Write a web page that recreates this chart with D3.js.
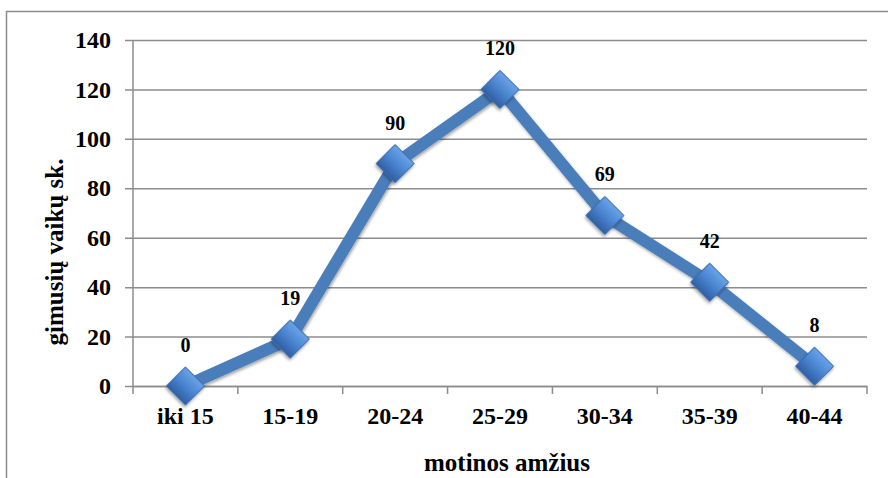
<!DOCTYPE html>
<html>
  <head>
    <meta charset="utf-8">
    <script src="https://d3js.org/d3.v7.min.js"></script>
    <style>
      body { margin: 0px; background: #fff; }
    </style>
  </head>
  <body>
    <svg width="888" height="478"></svg>
    <script>
      const categories = ['iki 15', '15-19', '20-24', '25-29', '30-34', '35-39', '40-44'];
      const values = [0, 19, 90, 120, 69, 42, 8];
      const yTicks = [0, 20, 40, 60, 80, 100, 120, 140];
      const xLabel = 'motinos amžius';
      const yLabel = 'gimusių vaikų sk.';

      const FONT = "'Liberation Serif', 'Times New Roman', Times, serif";
      const margin = { left: 133, right: 21, top: 40, bottom: 92 };
      const svg = d3.select('svg');
      const width = +svg.attr('width');
      const height = +svg.attr('height');
      const innerWidth = width - margin.left - margin.right;
      const innerHeight = height - margin.top - margin.bottom;

      // chart frame (only top and left edges are visible)
      svg.append('path')
          .attr('d', `M6.5,${height} V11.5 H${width}`)
          .attr('fill', 'none')
          .attr('stroke', '#8c8c8c')
          .attr('stroke-width', 1.5);

      const defs = svg.append('defs');
      const grad = defs.append('linearGradient')
          .attr('id', 'mk').attr('x1', 0).attr('y1', 0).attr('x2', 0).attr('y2', 1);
      grad.append('stop').attr('offset', '0%').attr('stop-color', '#6aa3e8');
      grad.append('stop').attr('offset', '50%').attr('stop-color', '#4a84d0');
      grad.append('stop').attr('offset', '100%').attr('stop-color', '#2f5fa3');
      const shadow = defs.append('filter').attr('id', 'sh')
          .attr('x', '-50%').attr('y', '-50%').attr('width', '200%').attr('height', '200%');
      shadow.append('feDropShadow')
          .attr('dx', 1).attr('dy', 2).attr('stdDeviation', 1.5)
          .attr('flood-color', '#000').attr('flood-opacity', 0.35);

      const g = svg.append('g')
          .attr('transform', `translate(${margin.left},${margin.top})`);

      const xScale = d3.scaleBand().domain(categories).range([0, innerWidth]);
      const yScale = d3.scaleLinear().domain([0, 140]).range([innerHeight, 0]);

      const yAxis = d3.axisLeft(yScale)
          .tickValues(yTicks)
          .tickSize(0)
          .tickPadding(22);
      const yAxisG = g.append('g').call(yAxis);
      yAxisG.select('.domain').remove();
      yAxisG.selectAll('.tick line')
          .attr('stroke', '#8c8c8c').attr('stroke-width', 1.5)
          .attr('x1', -8).attr('x2', innerWidth);

      const xAxis = d3.axisBottom(xScale).tickSize(0).tickPadding(21);
      const xAxisG = g.append('g')
          .attr('transform', `translate(0,${innerHeight})`)
          .call(xAxis);
      xAxisG.select('.domain').attr('stroke', '#8c8c8c').attr('stroke-width', 1.5);

      // tick marks between categories
      const bounds = categories.map(c => xScale(c)).concat([innerWidth]);
      xAxisG.selectAll('.sep').data(bounds)
        .enter().append('line')
          .attr('class', 'sep')
          .attr('x1', d => d).attr('x2', d => d)
          .attr('y1', 0).attr('y2', 8)
          .attr('stroke', '#8c8c8c').attr('stroke-width', 1.5);

      [yAxisG, xAxisG].forEach(a => a
          .attr('font-family', FONT)
          .attr('font-size', 24)
          .attr('font-weight', 'bold')
        .selectAll('.tick text')
          .attr('fill', '#000'));

      // y axis line
      g.append('line')
          .attr('x1', 0).attr('x2', 0)
          .attr('y1', 0).attr('y2', innerHeight)
          .attr('stroke', '#8c8c8c').attr('stroke-width', 1.5);

      const cx = d => xScale(d) + xScale.bandwidth() / 2;

      const line = d3.line()
          .x((d, i) => cx(categories[i]))
          .y(d => yScale(d));

      g.append('path')
          .datum(values)
          .attr('d', line)
          .attr('fill', 'none')
          .attr('stroke', '#4a7ebb')
          .attr('stroke-width', 12)
          .attr('stroke-linejoin', 'round')
          .attr('filter', 'url(#sh)');

      const diamond = d3.symbol().type(d3.symbolSquare).size(720);
      g.selectAll('.mk').data(values)
        .enter().append('path')
          .attr('class', 'mk')
          .attr('d', diamond)
          .attr('transform', (d, i) => `translate(${cx(categories[i])},${yScale(d)}) rotate(45)`)
          .attr('fill', 'url(#mk)')
          .attr('stroke', '#3a6cb0')
          .attr('stroke-width', 1)
          .attr('filter', 'url(#sh)');

      g.selectAll('.data-label').data(values)
        .enter().append('text')
          .attr('class', 'data-label')
          .attr('x', (d, i) => cx(categories[i]))
          .attr('y', d => yScale(d) - 34)
          .attr('text-anchor', 'middle')
          .attr('font-family', FONT)
          .attr('font-size', 20)
          .attr('font-weight', 'bold')
          .text(d => d);

      svg.append('text')
          .attr('x', 507)
          .attr('y', 471)
          .attr('text-anchor', 'middle')
          .attr('font-family', FONT)
          .attr('font-size', 25)
          .attr('font-weight', 'bold')
          .text(xLabel);

      svg.append('text')
          .attr('transform', 'translate(63,252) rotate(-90)')
          .attr('text-anchor', 'middle')
          .attr('font-family', FONT)
          .attr('font-size', 25)
          .attr('font-weight', 'bold')
          .text(yLabel);
    </script>
  </body>
</html>
